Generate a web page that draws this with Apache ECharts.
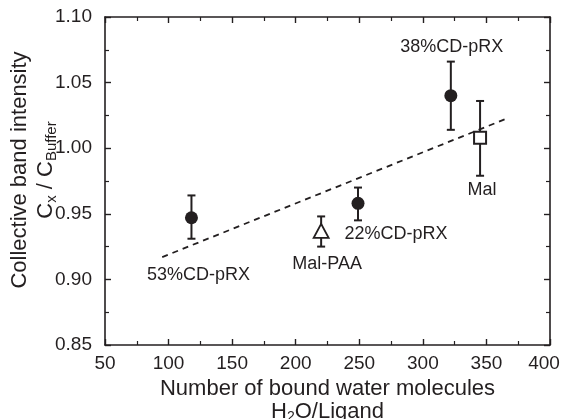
<!DOCTYPE html>
<html><head><meta charset="utf-8">
<script src="https://cdn.jsdelivr.net/npm/echarts@6/dist/echarts.min.js"></script>
<style>html,body{margin:0;padding:0;background:#fff}#c{width:563px;height:419px}</style>
</head><body><div id="c"></div>
<script>
// Data
var names = ['53%CD-pRX', 'Mal-PAA', '22%CD-pRX', '38%CD-pRX', 'Mal'];
var waterPerLigand = [118, 220, 249, 322, 345];
var intensity = [0.947, 0.937, 0.958, 1.040, 1.008];
var errLow = [0.931, 0.925, 0.945, 1.014, 0.979];
var errHigh = [0.964, 0.948, 0.970, 1.066, 1.036];
var markerKind = ['circle', 'triangle', 'circle', 'circle', 'square'];
var fitX = [95, 367];
var fitY = [0.917, 1.023];
var xTicks = [50, 100, 150, 200, 250, 300, 350, 400];
var yTicks = [0.85, 0.90, 0.95, 1.00, 1.05, 1.10];

// label offsets (presentation only)
var labelOffsets = [[7, 57], [6, 33], [38, 31], [1, -49], [2, 52]];

var INK = '#231f20';
var FONT = 'Liberation Sans, Arial, sans-serif';

function pointsOf(kind) {
  var out = [];
  for (var i = 0; i < names.length; i++) {
    if (markerKind[i] === kind) {
      out.push({
        value: [waterPerLigand[i], intensity[i]],
        name: names[i],
        label: {show: true, position: 'inside', offset: labelOffsets[i], formatter: names[i]}
      });
    }
  }
  return out;
}
var errData = names.map(function (n, i) { return [waterPerLigand[i], errLow[i], errHigh[i]]; });

var axisCommon = {
  type: 'value',
  axisLine: {show: true, lineStyle: {color: INK, width: 1.6}},
  axisTick: {show: true, inside: true, length: 6, lineStyle: {color: INK, width: 1.4}},
  minorTick: {show: true, splitNumber: 2, length: 4, lineStyle: {color: INK, width: 1.2}},
  splitLine: {show: false}
};

var xMax = xTicks[xTicks.length - 1];

var chart = echarts.init(document.getElementById('c'), null, {renderer: 'canvas'});
chart.setOption({
  backgroundColor: '#fff',
  animation: false,
  grid: {left: 105, right: 13, top: 17, bottom: 74, containLabel: false, outerBoundsMode: 'none'},
  xAxis: [
    Object.assign({}, axisCommon, {
      min: 50, max: 400, interval: 50, position: 'bottom',
      axisLabel: {color: INK, fontSize: 19, fontFamily: FONT, margin: 9,
        rich: {r: {fontSize: 19, fontFamily: FONT, color: INK, padding: [0, 12, 0, 0]}},
        formatter: function (v) {
          if (xTicks.indexOf(v) < 0) return '';
          return v === xMax ? '{r|' + v + '}' : String(v);
        }},
      name: 'Number of bound water molecules\nH{s|2}O/Ligand',
      nameLocation: 'middle', nameGap: 31,
      nameTextStyle: {color: INK, fontSize: 22, fontFamily: FONT, lineHeight: 23,
        rich: {s: {fontSize: 14, fontFamily: FONT, color: INK, verticalAlign: 'bottom', lineHeight: 14}}}
    }),
    Object.assign({}, axisCommon, {
      min: 50, max: 400, interval: 50, position: 'top',
      axisLabel: {show: false}
    })
  ],
  yAxis: [
    Object.assign({}, axisCommon, {
      min: 0.85, max: 1.10, interval: 0.05, position: 'left',
      axisLabel: {color: INK, fontSize: 19, fontFamily: FONT, margin: 13,
        formatter: function (v) { return v.toFixed(2); }},
      name: 'Collective band intensity\nC{s|x} / C{s|Buffer}',
      nameLocation: 'middle', nameGap: 46, nameRotate: 90, nameMoveOverlap: false,
      nameTextStyle: {color: INK, fontSize: 22, fontFamily: FONT, lineHeight: 26, padding: [0, 0, 0, 22],
        rich: {s: {fontSize: 15, fontFamily: FONT, color: INK, verticalAlign: 'bottom', lineHeight: 16}}}
    }),
    Object.assign({}, axisCommon, {
      min: 0.85, max: 1.10, interval: 0.05, position: 'right',
      axisLabel: {show: false}
    })
  ],
  series: [
    {
      type: 'line', xAxisIndex: 0, yAxisIndex: 0,
      data: fitX.map(function (x, i) { return [x, fitY[i]]; }),
      showSymbol: false, symbol: 'none',
      lineStyle: {color: INK, width: 1.8, type: [6, 5]},
      z: 1
    },
    {
      type: 'custom', xAxisIndex: 0, yAxisIndex: 0,
      data: errData,
      renderItem: function (params, api) {
        var x = api.value(0);
        var lo = api.coord([x, api.value(1)]);
        var hi = api.coord([x, api.value(2)]);
        var hw = 4;
        var st = {stroke: INK, lineWidth: 2};
        return {type: 'group', children: [
          {type: 'line', shape: {x1: lo[0], y1: lo[1], x2: hi[0], y2: hi[1]}, style: st},
          {type: 'line', shape: {x1: lo[0] - hw, y1: lo[1], x2: lo[0] + hw, y2: lo[1]}, style: st},
          {type: 'line', shape: {x1: hi[0] - hw, y1: hi[1], x2: hi[0] + hw, y2: hi[1]}, style: st}
        ]};
      },
      z: 2
    },
    {
      type: 'scatter', xAxisIndex: 0, yAxisIndex: 0,
      data: pointsOf('circle'), symbol: 'circle', symbolSize: 13,
      itemStyle: {color: INK, opacity: 1},
      label: {color: INK, fontSize: 18, fontFamily: FONT},
      z: 3
    },
    {
      type: 'scatter', xAxisIndex: 0, yAxisIndex: 0,
      data: pointsOf('triangle'), symbol: 'triangle', symbolSize: [15, 14],
      itemStyle: {color: '#fff', borderColor: INK, borderWidth: 1.8, opacity: 1},
      label: {color: INK, fontSize: 18, fontFamily: FONT},
      z: 3
    },
    {
      type: 'scatter', xAxisIndex: 0, yAxisIndex: 0,
      data: pointsOf('square'), symbol: 'rect', symbolSize: 12,
      itemStyle: {color: '#fff', borderColor: INK, borderWidth: 2, opacity: 1},
      label: {color: INK, fontSize: 18, fontFamily: FONT},
      z: 3
    }
  ]
});
</script></body></html>
